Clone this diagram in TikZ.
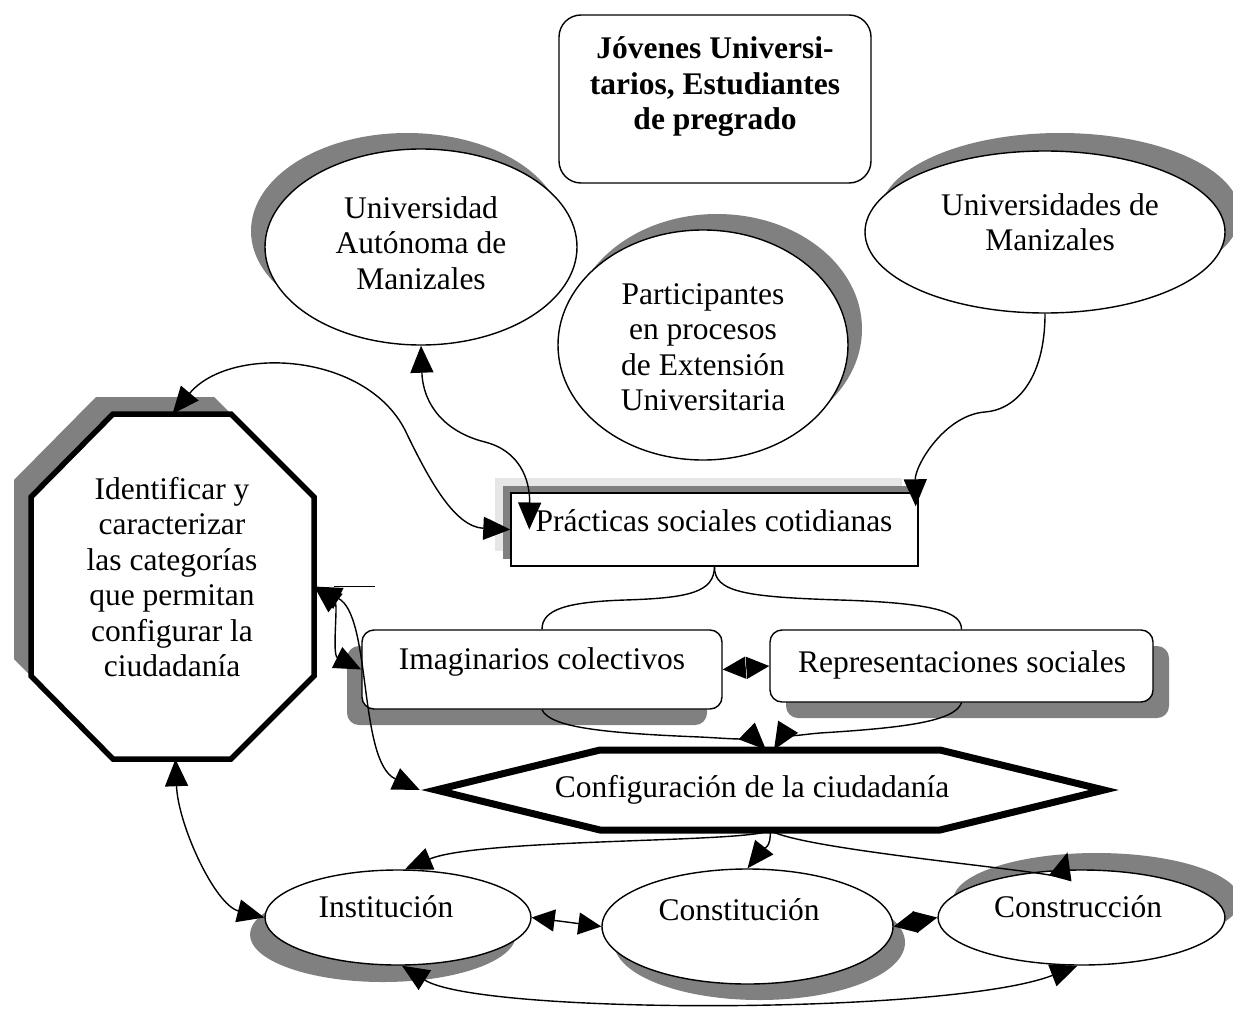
\documentclass[tikz,border=0pt]{standalone}
\usepackage{fontspec}
\setmainfont{Liberation Serif}
\usetikzlibrary{arrows.meta,shapes.geometric,shadows,calc}
\definecolor{shd}{HTML}{808080}
\definecolor{shdlight}{HTML}{E6E6E6}
\begin{document}
\begin{tikzpicture}[x=1pt,y=-1pt,
  every node/.style={inner sep=0pt},
  lbl/.style={font=\fontsize{31.5}{35.5}\selectfont, align=center},
  oneline/.style={text height=21.7pt, text depth=6.9pt},
  ellnode/.style={ellipse, draw, fill=white, line width=1.4pt},
  boxnode/.style={rectangle, draw, fill=white, line width=1.4pt},
  con/.style={line width=1.4pt},
  arr/.style={-{Triangle[length=27pt,width=23pt]}},
  dbl/.style={{Triangle[length=27pt,width=23pt]}-{Triangle[length=27pt,width=23pt]}},
  dblshort/.style={{Triangle[length=23pt,width=22pt]}-{Triangle[length=23pt,width=22pt]}},
  shadowat/.style n args={2}{general shadow={fill=shd, shadow xshift=#1, shadow yshift=#2}}
]
\fill[white] (0,0) rectangle (1233,1011);
\useasboundingbox (0,0) rectangle (1233,1011);

% ---------- top box
\node[boxnode, rounded corners=22pt, minimum width=312pt, minimum height=168pt] (jov) at (715,99) {};
\node[lbl, font=\fontsize{31.5}{35.5}\selectfont\bfseries] (jovt) at (715,87) {Jóvenes Universi-\\tarios, Estudiantes\\de pregrado};

% ---------- ellipses top
\node[ellnode, shadowat={-14pt}{16pt}, minimum width=312pt, minimum height=196pt] (ua) at (421,247) {};
\node[lbl] (uat) at (421,243) {Universidad\\Autónoma de\\Manizales};

\node[ellnode, shadowat={14pt}{16pt}, minimum width=290pt, minimum height=230pt] (part) at (703,345) {};
\node[lbl] (partt) at (703,347) {Participantes\\en procesos\\de Extensión\\Universitaria};

\node[ellnode, shadowat={15pt}{18pt}, minimum width=360pt, minimum height=162pt] (um) at (1045,232) {};
\node[lbl] (umt) at (1050,222) {Universidades de\\Manizales};

% ---------- practicas
\node[boxnode, general shadow={fill=shdlight, shadow xshift=-16pt, shadow yshift=15pt},
      general shadow={fill=shd, shadow xshift=-8pt, shadow yshift=7pt},
      minimum width=407pt, minimum height=73pt] (prac) at (714.5,529.5) {};
\node[lbl, oneline] (pract) at (714,524) {Prácticas sociales cotidianas};

% ---------- imaginarios / representaciones
\node[boxnode, rounded corners=12pt, shadowat={-15pt}{-16pt}, minimum width=360pt, minimum height=79pt] (imag) at (542,669.5) {};
\node[lbl, oneline] (imagt) at (542,662) {Imaginarios colectivos};
\node[boxnode, rounded corners=12pt, shadowat={16pt}{-16pt}, minimum width=383pt, minimum height=72pt] (rep) at (961.5,666) {};
\node[lbl, oneline] (rept) at (962,665) {Representaciones sociales};

% ---------- octagon
\fill[shd] (96,397) -- (214,397) -- (297,480) -- (297,659) -- (214,742) -- (96,742) -- (14,659) -- (14,480) -- cycle;
\draw[line width=5.5pt, fill=white, line join=miter] (113,414) -- (231,414) -- (314,497) -- (314,676) -- (231,759) -- (113,759) -- (31,676) -- (31,497) -- cycle;
\node[minimum width=283pt, minimum height=345pt] (oct) at (172.5,586.5) {};
\node[lbl] (octt) at (172,577) {Identificar y\\caracterizar\\las categorías\\que permitan\\configurar la\\ciudadanía};

% ---------- hexagon
\draw[line width=7pt, fill=white, line join=miter] (436,790) -- (600,750) -- (940,750) -- (1104,790) -- (940,830) -- (600,830) -- cycle;
\node[minimum width=700pt, minimum height=80pt] (conf) at (770,790) {};
\node[lbl, oneline] (conft) at (752,790) {Configuración de la ciudadanía};

% ---------- bottom ellipses
\node[ellnode, shadowat={-15pt}{-17pt}, minimum width=266pt, minimum height=95pt] (inst) at (398,917.5) {};
\node[lbl, oneline] (instt) at (386,910) {Institución};
\node[ellnode, shadowat={12pt}{-16pt}, minimum width=291pt, minimum height=115pt] (consti) at (747.5,926.5) {};
\node[lbl, oneline] (constit) at (739,913) {Constitución};
\node[ellnode, shadowat={15pt}{17pt}, minimum width=287pt, minimum height=95pt] (constru) at (1081.5,917.5) {};
\node[lbl, oneline] (construt) at (1078,910) {Construcción};

% ---------- connectors
\draw[con,dbl] (oct.north) .. controls (230,345) and (365,352) .. (405,430) .. controls (430,482) and (455,527) .. (prac.west);
\draw[con,dbl] (ua.south) .. controls (423,405) and (445,432) .. (485,442) .. controls (520,451) and (530,480) .. ([xshift=19pt]prac.west);
\draw[con,arr] (um.south) .. controls (1045,380) and (1015,410) .. (985,412) .. controls (945,415) and (915,465) .. ([xshift=-3pt,yshift=-14pt]prac.north east);

\draw[con] (prac.south) .. controls (714,592) and (690,598) .. (625,600) .. controls (565,602) and (542,610) .. (imag.north);
\draw[con] (prac.south) .. controls (714,592) and (745,597) .. (840,600) .. controls (935,603) and (961.5,612) .. (rep.north);

\draw[con,dblshort] (imag.east) -- (rep.west);

\draw[con,arr] (imag.south) .. controls (550,727) and (600,733) .. (700,737) .. controls (740,739) and (758,742) .. ([xshift=-4pt]conf.north);
\draw[con,arr] (rep.south) .. controls (955,722) and (900,728) .. (820,733) .. controls (795,735) and (780,740) .. ([xshift=4pt]conf.north);

\coordinate (stub) at (375,586.5);
\draw[con] ([xshift=20pt]oct.east) -- (stub);
\draw[con,dbl] (oct.east) .. controls (338,605) and (332,655) .. (imag.west);
\draw[con,dbl] (oct.east) .. controls (372,615) and (358,762) .. (conf.west);

\draw[con,dbl] ([xshift=3pt]oct.south) .. controls (178,825) and (215,905) .. (inst.west);

\draw[con,arr] (conf.south) .. controls (752,843) and (480,838) .. ([xshift=7pt]inst.north);
\draw[con,arr] (conf.south) .. controls (772,848) and (762,850) .. (consti.north);
\draw[con,arr] (conf.south) .. controls (800,850) and (1062,872) .. ([xshift=-14pt,yshift=17pt]constru.north);

\draw[con,dbl] ([xshift=4pt]inst.south) .. controls (480,1015) and (950,1015) .. ([xshift=-4pt]constru.south);
\draw[con,dblshort] (inst.east) -- (consti.west);
\draw[con,dblshort] (consti.east) -- (constru.west);
\end{tikzpicture}
\end{document}
